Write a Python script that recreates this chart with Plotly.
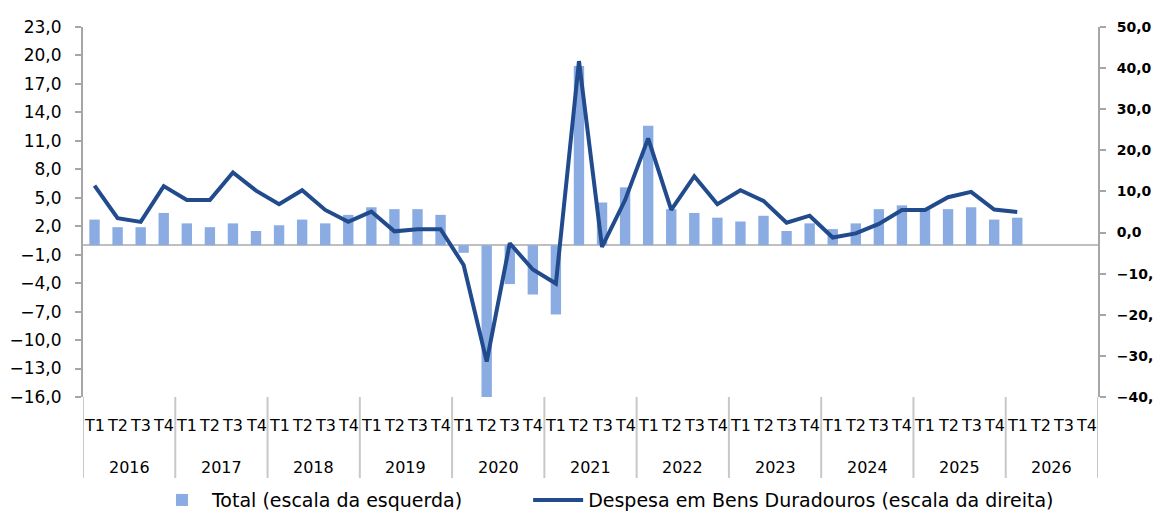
import plotly.graph_objects as go

years = ["2016", "2017", "2018", "2019", "2020", "2021", "2022", "2023", "2024", "2025", "2026"]
quarters = ["T1", "T2", "T3", "T4"]

total = [2.7, 1.9, 1.9, 3.4,
         2.3, 1.9, 2.3, 1.5,
         2.1, 2.7, 2.3, 3.2,
         4.0, 3.8, 3.8, 3.2,
         -0.8, -16.0, -4.1, -5.2,
         -7.3, 18.9, 4.5, 6.1,
         12.6, 3.8, 3.4, 2.9,
         2.5, 3.1, 1.5, 2.3,
         1.7, 2.3, 3.8, 4.2,
         3.8, 3.8, 4.0, 2.7,
         2.9, None, None, None]

duradouros = [11.4, 3.5, 2.6, 11.3,
              7.9, 7.9, 14.6, 10.2,
              6.9, 10.3, 5.5, 2.6,
              5.1, 0.3, 0.8, 0.8,
              -7.9, -31.4, -2.6, -9.0,
              -12.4, 41.7, -3.5, 7.9,
              22.9, 5.5, 13.7, 6.9,
              10.3, 7.7, 2.4, 4.1,
              -1.2, -0.2, 2.1, 5.5,
              5.5, 8.6, 9.9, 5.6,
              5.0, None, None, None]

categories = [f"{y} {q}" for y in years for q in quarters]

FONT = "DejaVu Sans"
AXIS_GREY = "#a6a6a6"
DIV_GREY = "#c8c8c8"

fig = go.Figure()
fig.add_trace(go.Bar(
    x=categories, y=total,
    name="Total (escala da esquerda)",
    marker=dict(color="#8aace3", line=dict(width=0)),
    yaxis="y",
    legend="legend",
))
fig.add_trace(go.Scatter(
    x=categories, y=duradouros,
    name="Despesa em Bens Duradouros (escala da direita)",
    mode="lines",
    line=dict(color="#214b8c", width=4),
    yaxis="y2",
    connectgaps=False,
    legend="legend2",
))

# Two-level category labels (quarter row, year row) and group dividers
annotations = []
shapes = []
for yi, yr in enumerate(years):
    for qi, q in enumerate(quarters):
        annotations.append(dict(
            x=f"{yr} {q}", xref="x", y=-0.076, yref="paper",
            text=q, showarrow=False, xanchor="center", yanchor="middle",
            font=dict(family=FONT, size=16, color="#000000"),
        ))
    annotations.append(dict(
        x=yi * len(quarters) + (len(quarters) - 1) / 2, xref="x",
        y=-0.19, yref="paper",
        text=yr, showarrow=False, xanchor="center", yanchor="middle",
        font=dict(family=FONT, size=16, color="#000000"),
    ))
for k in range(len(years) + 1):
    xb = k * len(quarters) - 0.5
    shapes.append(dict(
        type="line", xref="x", yref="paper",
        x0=xb, x1=xb, y0=0, y1=-0.219,
        line=dict(color=DIV_GREY, width=2),
    ))

legend_common = dict(
    orientation="h",
    xref="container", yref="container",
    y=0.037, xanchor="left", yanchor="middle",
    font=dict(family=FONT, size=19, color="#000000"),
    itemwidth=50,
    bgcolor="rgba(0,0,0,0)",
)

fig.update_layout(
    width=1161, height=511,
    margin=dict(l=75, r=71, t=19, b=122, autoexpand=False),
    paper_bgcolor="white", plot_bgcolor="white",
    separators=",.",
    bargap=0.55,
    font=dict(family=FONT, size=16, color="#000000"),
    xaxis=dict(
        type="category",
        categoryorder="array", categoryarray=categories,
        range=[-0.5, len(categories) - 0.5],
        automargin=False,
        showgrid=False,
        showline=False,
        showticklabels=False,
        ticks="",
        zeroline=False,
    ),
    yaxis=dict(
        range=[-16, 23],
        automargin=False,
        tickvals=[23 - 3 * k for k in range(14)],
        tickformat=".1f",
        showgrid=False,
        showline=True, linecolor=AXIS_GREY, linewidth=2,
        ticks="outside", ticklen=6, tickcolor=AXIS_GREY, tickwidth=1.5,
        ticklabelstandoff=10,
        zeroline=True, zerolinecolor="#bfbfbf", zerolinewidth=2,
        tickfont=dict(family=FONT, size=17, color="#000000"),
    ),
    yaxis2=dict(
        range=[-40, 50],
        automargin=False,
        tickvals=[50 - 10 * k for k in range(10)],
        tickformat=".1f",
        overlaying="y", side="right",
        showgrid=False,
        showline=True, linecolor=AXIS_GREY, linewidth=2,
        ticks="outside", ticklen=6, tickcolor=AXIS_GREY, tickwidth=1.5,
        ticklabelstandoff=8,
        zeroline=False,
        tickfont=dict(family=FONT, size=14, color="#000000", weight="bold"),
    ),
    annotations=annotations,
    shapes=shapes,
    legend=dict(x=0.124, **legend_common),
    legend2=dict(x=0.448, **legend_common),
    showlegend=True,
)

fig.write_html("out.html")
